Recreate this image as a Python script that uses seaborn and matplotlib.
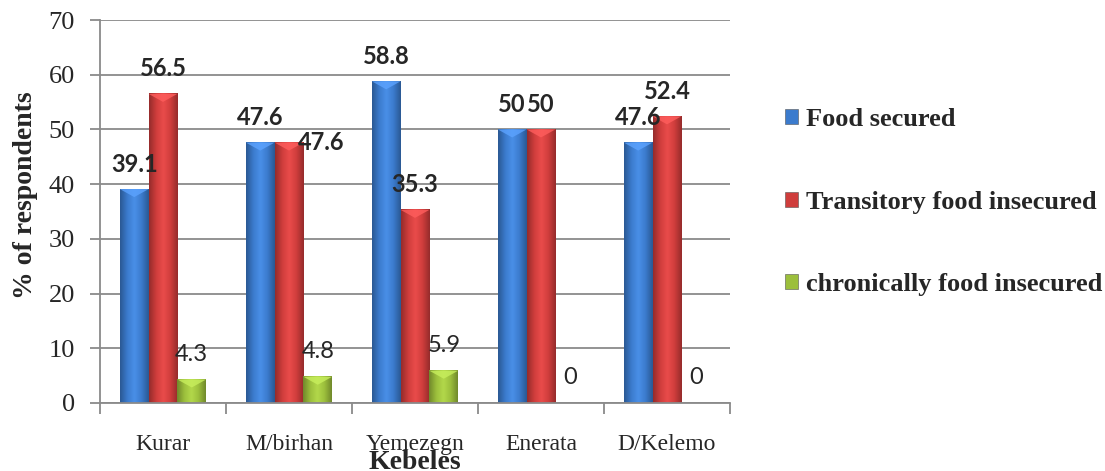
import numpy as np
import pandas as pd
import matplotlib
matplotlib.use("Agg")
import matplotlib.pyplot as plt
from matplotlib.colors import LinearSegmentedColormap, to_rgb
from matplotlib.patches import Polygon
import seaborn as sns

# Data
kebeles = ["Kurar", "M/birhan", "Yemezegn", "Enerata", "D/Kelemo"]
series = ["Food secured", "Transitory food insecured", "chronically food insecured"]
food_secured = [39.1, 47.6, 58.8, 50, 47.6]
transitory = [56.5, 47.6, 35.3, 50, 52.4]
chronic = [4.3, 4.8, 5.9, 0, 0]

colors = ["#3b7bcd", "#cf3d3c", "#9cbf3c"]

df = pd.DataFrame({
    "kebele": kebeles * 3,
    "status": np.repeat(series, len(kebeles)),
    "value": food_secured + transitory + chronic,
})

sns.set_style("white")
plt.rcParams["font.family"] = ["Liberation Serif", "DejaVu Serif"]
serif = "Liberation Serif"

fig = plt.figure(figsize=(11.05, 4.71), dpi=100)
ax = fig.add_axes([0.0905, 0.1444, 0.5701, 0.8131])

sns.barplot(data=df, x="kebele", y="value", hue="status", order=kebeles,
            hue_order=series, palette=colors, width=0.685, gap=0,
            saturation=1, ax=ax, legend=False, edgecolor="none")


def shade(c):
    r, g, b = to_rgb(c)
    dark = (r * 0.72, g * 0.72, b * 0.72)
    light = tuple(min(1, v * 1.08 + 0.04) for v in (r, g, b))
    return LinearSegmentedColormap.from_list("bar", [dark, c, light, c, dark])


# gradient fill + bevel top on each bar
grad = np.linspace(0, 1, 64).reshape(1, -1)
bevel = 70 * 8 / 383
for i, patch in enumerate(ax.patches):
    h = patch.get_height()
    if h <= 0:
        continue
    x0, w = patch.get_x(), patch.get_width()
    c = colors[i // len(kebeles)]
    patch.set_alpha(0)
    ax.imshow(grad, cmap=shade(c), extent=[x0, x0 + w, 0, h], aspect="auto",
              zorder=2, interpolation="bicubic")
    r, g, b = to_rgb(c)
    top = tuple(min(1, v * 1.12 + 0.1) for v in (r, g, b))
    ax.add_patch(Polygon([(x0, h), (x0 + w, h), (x0 + w / 2, h - bevel)],
                         closed=True, facecolor=top, edgecolor="none",
                         alpha=0.8, zorder=3))

ax.set_ylim(0, 70)
ax.set_xlim(-0.5, len(kebeles) - 0.5)

# value labels
values = [food_secured, transitory, chronic]
offsets = {(1, 1): (32, 0)}
for s, vals in enumerate(values):
    for k, v in enumerate(vals):
        xc = k + (s - 1) * 0.685 / 3
        dx, dy = offsets.get((k, s), (0, 25))
        ax.annotate(f"{v:g}", xy=(xc, v), xytext=(dx * 0.72, dy * 0.72),
                    textcoords="offset points", ha="center", va="center",
                    fontsize=17, family=["Lato", "DejaVu Sans"],
                    fontweight="bold" if s < 2 else "normal", zorder=5)

# axes styling
ax.yaxis.grid(True, color="#8a8a8a", linewidth=1.3)
ax.set_axisbelow(True)
for side in ["top", "right"]:
    ax.spines[side].set_visible(False)
for side in ["left", "bottom"]:
    ax.spines[side].set_color("#8a8a8a")
    ax.spines[side].set_linewidth(1.3)

ax.set_yticks(range(0, 71, 10))
ax.set_yticklabels([str(t) for t in range(0, 71, 10)], family=serif, fontsize=19)
ax.tick_params(axis="y", which="major", direction="out", length=7, width=1.3,
               color="#8a8a8a", pad=11, left=True)
ax.set_xticks(np.arange(-0.5, len(kebeles), 1))
ax.set_xticklabels([])
ax.set_xticks(range(len(kebeles)), minor=True)
ax.set_xticklabels(kebeles, minor=True, family=serif, fontsize=17)
ax.tick_params(axis="x", which="major", direction="out", length=8, width=1.3,
               color="#8a8a8a", bottom=True)
ax.tick_params(axis="x", which="minor", length=0, pad=22)

ax.set_ylabel("% of respondents", fontsize=20, fontweight="bold", family=serif)
ax.yaxis.set_label_coords(-0.098, 0.543)
ax.set_xlabel("Kebeles", fontsize=20, fontweight="bold", family=serif)
ax.xaxis.set_label_coords(0.5, -0.122)

# legend
handles = [plt.Rectangle((0, 0), 1, 1, facecolor=c, edgecolor="#555555",
                         linewidth=0.4) for c in colors]
fig.legend(handles, series, loc="center left", bbox_to_anchor=(785 / 1105, 0.571),
           frameon=False, borderpad=0, borderaxespad=0, handlelength=0.5,
           handleheight=0.5, handletextpad=0.3, labelspacing=2.25,
           prop={"family": serif, "weight": "bold", "size": 19})

fig.savefig("out.png", dpi=100)
